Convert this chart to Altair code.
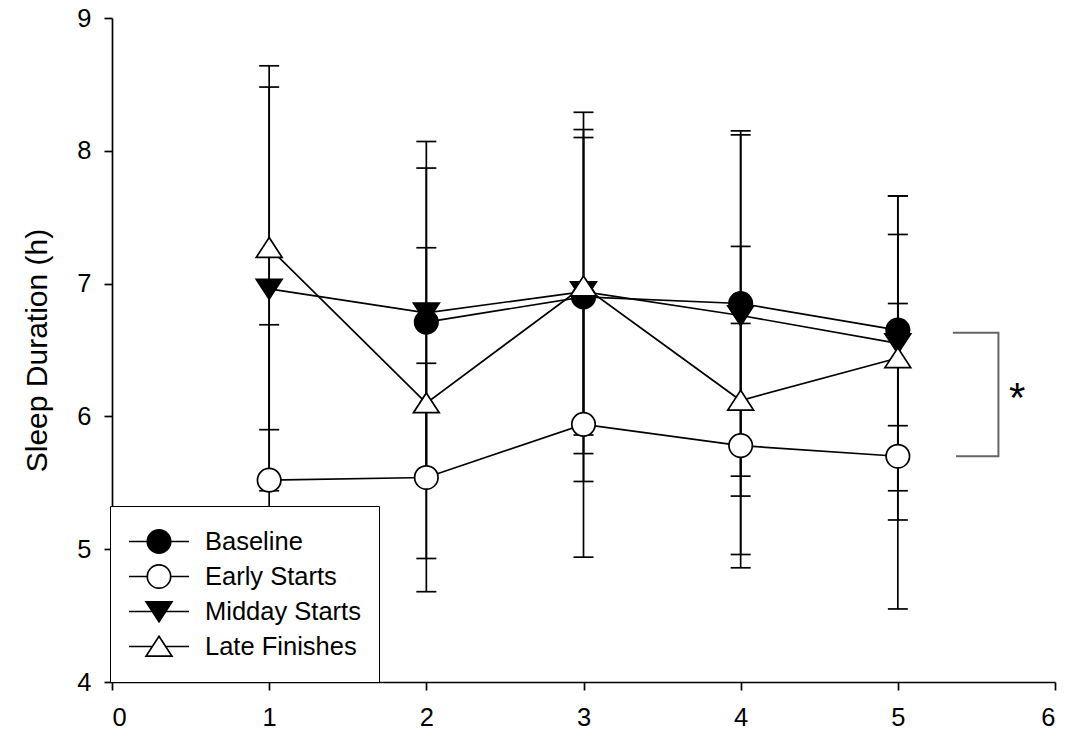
import altair as alt
import pandas as pd

days = [1, 2, 3, 4, 5]
series_names = ["Baseline", "Early Starts", "Midday Starts", "Late Finishes"]
baseline_mean = [None, 6.71, 6.90, 6.85, 6.65]
baseline_sd = [None, 1.16, 1.39, 1.30, 0.72]
early_mean = [5.52, 5.54, 5.94, 5.78, 5.70]
early_sd = [1.17, 0.86, 1.00, 0.92, 1.15]
midday_mean = [6.96, 6.78, 6.94, 6.76, 6.55]
midday_sd = [1.52, 1.29, 1.22, 1.36, 1.11]
late_mean = [7.27, 6.10, 6.98, 6.12, 6.44]
late_sd = [1.37, 1.17, 1.12, 1.16, 1.22]

x_ticks = [0, 1, 2, 3, 4, 5, 6]
y_ticks = [4, 5, 6, 7, 8, 9]

# significance bracket annotation (data coordinates)
bracket_x = [5.35, 5.64, 5.64, 5.37]
bracket_y = [6.63, 6.63, 5.70, 5.70]
star_x = [5.76]
star_y = [6.13]

means = [baseline_mean, early_mean, midday_mean, late_mean]
sds = [baseline_sd, early_sd, midday_sd, late_sd]
rows = []
for name, m, s in zip(series_names, means, sds):
    for d, mv, sv in zip(days, m, s):
        if mv is None:
            continue
        rows.append({"series": name, "day": d, "mean": mv, "lo": mv - sv, "hi": mv + sv})
df = pd.DataFrame(rows)

bracket_df = pd.DataFrame({"bx": bracket_x, "by": bracket_y, "o": list(range(len(bracket_x)))})
star_df = pd.DataFrame({"sx": star_x, "sy": star_y, "t": ["*"]})

FONT = "Liberation Sans"
LW = 1.7
TICK_FS = 25.5

circle = "M0.39,0A0.39,0.39,0,1,1,-0.39,0A0.39,0.39,0,1,1,0.39,0Z"
tri_up = "M0,-0.34L0.43,0.32L-0.43,0.32Z"
tri_down = "M0,0.34L0.43,-0.32L-0.43,-0.32Z"
marker_paths = [circle, circle, tri_down, tri_up]
legend_paths = [
    "M-1,0H-0.39M0.39,0H1" + circle,
    "M-1,0H-0.39M0.39,0H1" + circle,
    "M-1,0H-0.22M0.22,0H1" + tri_down,
    "M-1,0H-0.22M0.22,0H1" + tri_up,
]
fills = ["black", "white", "black", "white"]
strokes = ["black", "black", "black", "black"]

xs = alt.X("day:Q", scale=alt.Scale(domain=[0, 6], nice=False),
           axis=alt.Axis(values=x_ticks, title=None, format="d", labelPadding=15,
                         labelFont=FONT, labelFontSize=TICK_FS, labelColor="black"))
ys = alt.Y("mean:Q", scale=alt.Scale(domain=[4, 9], nice=False),
           axis=alt.Axis(values=y_ticks, title="Sleep Duration (h)", format="d",
                         labelPadding=13, titlePadding=24, titleFontSize=30,
                         labelFont=FONT, labelFontSize=TICK_FS, labelColor="black"))

base = alt.Chart(df)

err = base.mark_rule(color="black", strokeWidth=LW).encode(
    x="day:Q", y="lo:Q", y2="hi:Q")
cap_hi = base.mark_rule(color="black", strokeWidth=LW, xOffset=-10, x2Offset=10).encode(
    x="day:Q", x2="day:Q", y="hi:Q")
cap_lo = base.mark_rule(color="black", strokeWidth=LW, xOffset=-10, x2Offset=10).encode(
    x="day:Q", x2="day:Q", y="lo:Q")

lines = base.mark_line(color="black", strokeWidth=LW).encode(
    x=xs, y=ys, detail="series:N")

points = base.mark_point(filled=True, size=3600, opacity=1, stroke="black", strokeWidth=LW).encode(
    x="day:Q", y="mean:Q",
    shape=alt.Shape("series:N", scale=alt.Scale(domain=series_names, range=marker_paths), legend=None),
    fill=alt.Fill("series:N", scale=alt.Scale(domain=series_names, range=fills), legend=None),
)

leg = alt.Legend(
    title=None, orient="none", legendX=-2, legendY=488,
    strokeColor="black", fillColor="white", padding=18,
    labelFont=FONT, labelFontSize=25.5, labelColor="black", labelOffset=15,
    symbolSize=3600, symbolStrokeColor="black", symbolStrokeWidth=LW,
    symbolOpacity=1, clipHeight=35, rowPadding=0,
)
legend_layer = base.mark_point(filled=False, size=3600, opacity=0, strokeWidth=LW).encode(
    x="day:Q", y="mean:Q",
    shape=alt.Shape("series:N", scale=alt.Scale(domain=series_names, range=legend_paths), legend=leg),
    fill=alt.Fill("series:N", scale=alt.Scale(domain=series_names, range=fills), legend=leg),
    stroke=alt.Stroke("series:N", scale=alt.Scale(domain=series_names, range=strokes), legend=leg),
)

bracket = alt.Chart(bracket_df).mark_line(color="#666666", strokeWidth=2).encode(
    x="bx:Q", y="by:Q", order="o:Q")
star = alt.Chart(star_df).mark_text(font=FONT, fontSize=42, color="black", baseline="middle").encode(
    x="sx:Q", y="sy:Q", text="t:N")

chart = alt.layer(
    lines, err, cap_hi, cap_lo, points, legend_layer, bracket, star
).resolve_scale(
    shape="independent", fill="independent", stroke="independent"
).properties(
    width=943, height=664,
    autosize=alt.AutoSizeParams(type="none"),
    padding={"left": 112, "top": 18, "right": 13, "bottom": 56},
).configure_view(stroke=None).configure_axis(
    grid=False, domainColor="black", domainWidth=LW, tickColor="black", tickWidth=LW,
    tickSize=8, labelFont=FONT, labelFontSize=TICK_FS, labelColor="black",
    titleFont=FONT, titleColor="black", titleFontWeight="normal",
)

chart.save("out.html", embed_options={"renderer": "svg", "actions": False})
